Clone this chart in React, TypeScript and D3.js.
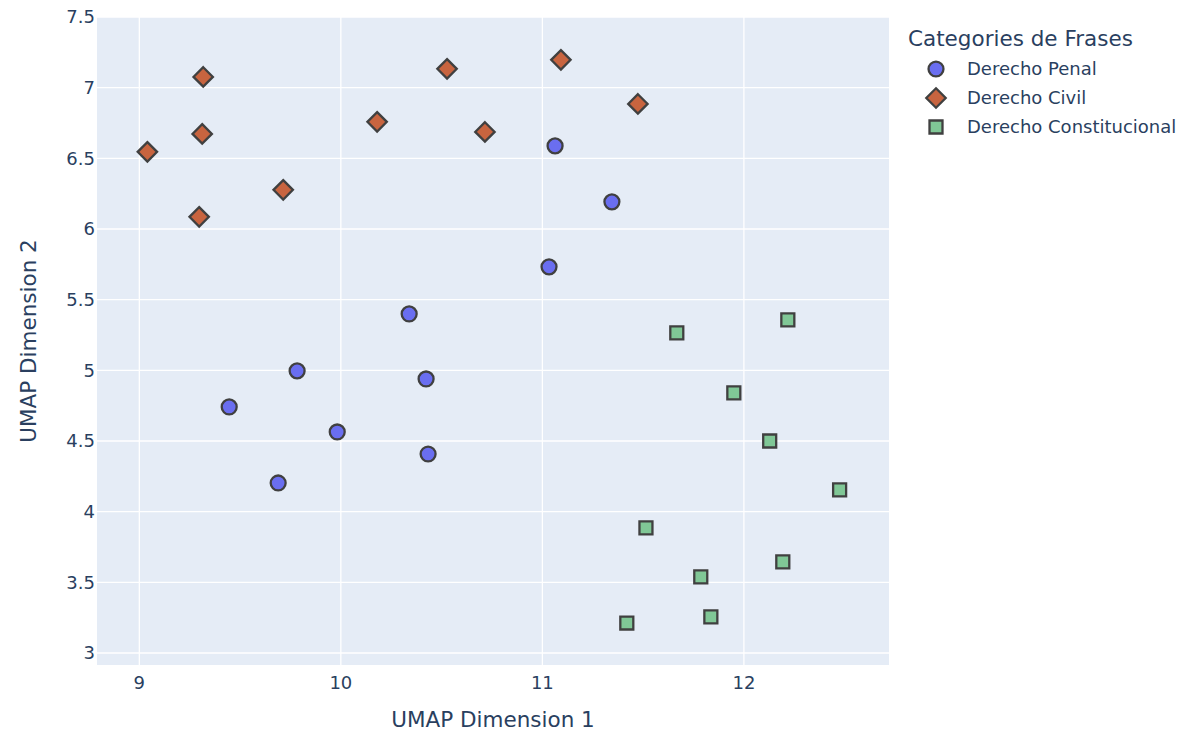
import { useEffect, useRef } from "react";
import * as d3 from "d3";

const categories = ["Derecho Penal", "Derecho Civil", "Derecho Constitucional"];
const colors = ["#6a6ef0", "#c8643f", "#80c796"];
const symbols = [d3.symbolCircle, d3.symbolDiamond2, d3.symbolSquare2];

const penalX = [11.063, 11.345, 11.033, 10.339, 9.783, 10.423, 9.446, 9.982, 10.433, 9.689];
const penalY = [6.588, 6.192, 5.732, 5.399, 4.996, 4.939, 4.741, 4.564, 4.408, 4.203];
const civilX = [9.04, 9.317, 9.312, 9.297, 9.714, 10.18, 10.527, 10.715, 11.092, 11.474];
const civilY = [6.546, 7.076, 6.673, 6.086, 6.277, 6.758, 7.133, 6.687, 7.197, 6.885];
const constX = [11.667, 12.218, 11.95, 12.128, 12.475, 11.514, 11.786, 12.193, 11.836, 11.419];
const constY = [5.265, 5.357, 4.84, 4.5, 4.154, 3.885, 3.538, 3.644, 3.255, 3.212];

const xTicks = [9, 10, 11, 12];
const yTicks = [3, 3.5, 4, 4.5, 5, 5.5, 6, 6.5, 7, 7.5];

const W = 1186;
const H = 731;
const font = "'DejaVu Sans', Verdana, sans-serif";

export default function App() {
  const ref = useRef<SVGSVGElement>(null);

  useEffect(() => {
    const svg = d3.select(ref.current);
    svg.selectAll("*").remove();

    const left = 97, right = 889, top = 17, bottom = 665;
    const x = d3.scaleLinear().domain([8.79, 12.72]).range([left, right]);
    const y = d3.scaleLinear().domain([2.915, 7.5]).range([bottom, top]);

    svg.append("rect")
      .attr("x", left).attr("y", top)
      .attr("width", right - left).attr("height", bottom - top)
      .attr("fill", "#e5ecf6");

    // grid
    svg.append("g").selectAll("line").data(xTicks).join("line")
      .attr("x1", d => x(d)).attr("x2", d => x(d))
      .attr("y1", top).attr("y2", bottom)
      .attr("stroke", "#fff").attr("stroke-width", 1.3);
    svg.append("g").selectAll("line").data(yTicks).join("line")
      .attr("x1", left).attr("x2", right)
      .attr("y1", d => y(d)).attr("y2", d => y(d))
      .attr("stroke", "#fff").attr("stroke-width", 1.3);

    // tick labels
    svg.append("g").selectAll("text").data(xTicks).join("text")
      .attr("x", d => x(d)).attr("y", bottom + 24)
      .attr("text-anchor", "middle")
      .attr("font-family", font).attr("font-size", 18).attr("fill", "#2a3f5f")
      .text(d => d);
    svg.append("g").selectAll("text").data(yTicks).join("text")
      .attr("x", left - 2).attr("y", d => y(d)).attr("dy", "0.35em")
      .attr("text-anchor", "end")
      .attr("font-family", font).attr("font-size", 18).attr("fill", "#2a3f5f")
      .text(d => d);

    // axis titles
    svg.append("text")
      .attr("x", (left + right) / 2).attr("y", 727)
      .attr("text-anchor", "middle")
      .attr("font-family", font).attr("font-size", 21.5).attr("fill", "#2a3f5f")
      .text("UMAP Dimension 1");
    svg.append("text")
      .attr("transform", `translate(36,${(top + bottom) / 2}) rotate(-90)`)
      .attr("text-anchor", "middle")
      .attr("font-family", font).attr("font-size", 21.5).attr("fill", "#2a3f5f")
      .text("UMAP Dimension 2");

    const series = [
      { xs: penalX, ys: penalY },
      { xs: civilX, ys: civilY },
      { xs: constX, ys: constY },
    ];
    const sizes = [175, 240, 215];

    series.forEach((s, k) => {
      const sym = d3.symbol().type(symbols[k]).size(sizes[k]);
      svg.append("g").selectAll("path").data(s.xs).join("path")
        .attr("transform", (d, i) => `translate(${x(d)},${y(s.ys[i])})`)
        .attr("d", sym)
        .attr("fill", colors[k])
        .attr("stroke", "#404040")
        .attr("stroke-width", 2.3);
    });

    // legend
    const lg = svg.append("g");
    lg.append("text")
      .attr("x", 908).attr("y", 46)
      .attr("font-family", font).attr("font-size", 21.5).attr("fill", "#2a3f5f")
      .text("Categories de Frases");
    categories.forEach((c, k) => {
      const cy = 69 + k * 29;
      lg.append("path")
        .attr("transform", `translate(936,${cy})`)
        .attr("d", d3.symbol().type(symbols[k]).size(sizes[k])())
        .attr("fill", colors[k])
        .attr("stroke", "#404040")
        .attr("stroke-width", 2.3);
      lg.append("text")
        .attr("x", 967).attr("y", cy).attr("dy", "0.35em")
        .attr("font-family", font).attr("font-size", 18).attr("fill", "#2a3f5f")
        .text(c);
    });
  }, []);

  return <svg ref={ref} width={W} height={H} style={{ display: "block", position: "absolute", left: 0, top: 0 }} />;
}
